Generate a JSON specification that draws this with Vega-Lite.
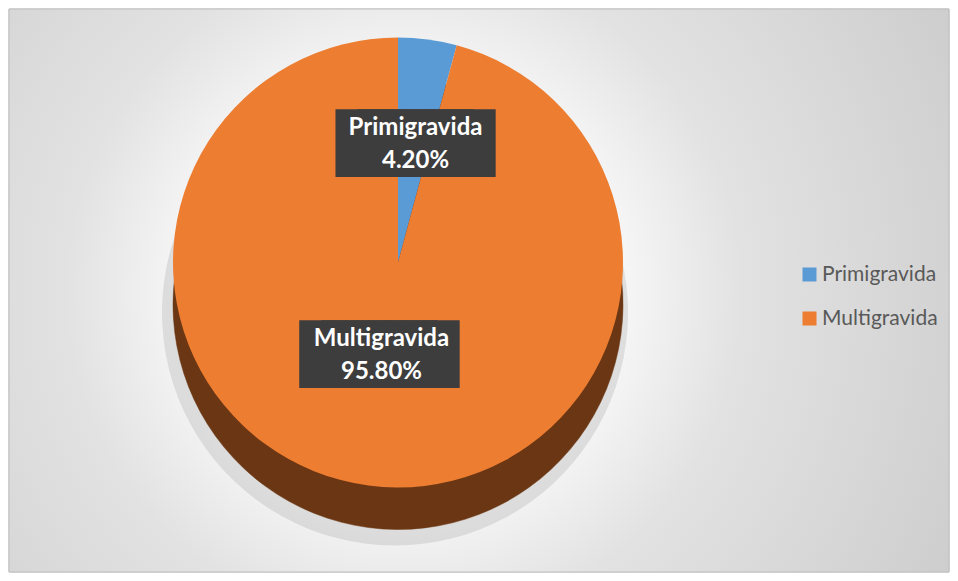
{
  "$schema": "https://vega.github.io/schema/vega-lite/v6.json",
  "width": 958,
  "height": 581,
  "autosize": {"type": "fit", "contains": "padding"},
  "padding": 8,
  "background": "#ffffff",
  "config": {"view": {"stroke": null}},
  "data": {"values": [
    {"category": "Primigravida", "value": 0.042},
    {"category": "Multigravida", "value": 0.958}
  ]},
  "layer": [
    {
      "mark": {"type": "rect", "stroke": "#bfbfbf", "strokeWidth": 1,
        "fill": {"gradient": "radial", "x1": 0.42, "y1": 0.5, "r1": 0, "x2": 0.42, "y2": 0.5, "r2": 0.72,
          "stops": [{"offset": 0, "color": "#ffffff"}, {"offset": 0.28, "color": "#fbfbfb"}, {"offset": 0.5, "color": "#e2e2e2"}, {"offset": 1, "color": "#c9c9c9"}]}},
      "encoding": {}
    },
    {
      "encoding": {
        "theta": {"field": "value", "type": "quantitative", "stack": true},
        "order": {"field": "category", "type": "ordinal", "sort": "descending"}
      },
      "layer": [
        {"mark": {"type": "arc", "radius": 233, "xOffset": -84, "yOffset": 22, "fill": "#8c8c8c", "opacity": 0.22}},
        {"mark": {"type": "arc", "radius": 225, "xOffset": -81, "yOffset": 14, "fill": "#6b3613", "stroke": "#6b3613", "strokeWidth": 0.5}},
        {
          "mark": {"type": "arc", "radius": 225, "xOffset": -81, "yOffset": -28},
          "encoding": {
            "color": {"field": "category", "type": "nominal",
              "scale": {"domain": ["Primigravida", "Multigravida"], "range": ["#5B9BD5", "#ED7D31"]},
              "legend": {"title": null, "orient": "none", "legendX": 790, "legendY": 255,
                "symbolType": "square", "symbolSize": 196, "symbolStrokeWidth": 0,
                "labelFont": "Lato", "labelFontSize": 21, "labelColor": "#595959",
                "rowPadding": 22, "labelOffset": 2}}
          }
        },
        {
          "mark": {"type": "text", "radius": 118, "xOffset": -90, "yOffset": -28, "font": "DejaVu Sans Mono", "fontSize": 57, "fill": "#3d3d3d", "align": "center", "baseline": "middle"},
          "encoding": {"text": {"condition": {"test": "datum.category === 'Primigravida'", "value": "████"}, "value": ""}}
        },
        {
          "mark": {"type": "text", "radius": 118, "xOffset": -68, "yOffset": -28, "font": "DejaVu Sans Mono", "fontSize": 57, "fill": "#3d3d3d", "align": "center", "baseline": "middle"},
          "encoding": {"text": {"condition": {"test": "datum.category === 'Primigravida'", "value": "████"}, "value": ""}}
        },
        {
          "mark": {"type": "text", "radius": 95, "xOffset": -98, "yOffset": -28, "font": "DejaVu Sans Mono", "fontSize": 57, "fill": "#3d3d3d", "align": "center", "baseline": "middle"},
          "encoding": {"text": {"condition": {"test": "datum.category === 'Multigravida'", "value": "████"}, "value": ""}}
        },
        {
          "mark": {"type": "text", "radius": 95, "xOffset": -76, "yOffset": -28, "font": "DejaVu Sans Mono", "fontSize": 57, "fill": "#3d3d3d", "align": "center", "baseline": "middle"},
          "encoding": {"text": {"condition": {"test": "datum.category === 'Multigravida'", "value": "████"}, "value": ""}}
        },
        {
          "mark": {"type": "text", "radius": 118, "xOffset": -79, "yOffset": -46, "font": "Lato", "fontWeight": "bold", "fontSize": 24, "fill": "#ffffff", "align": "center", "baseline": "middle"},
          "encoding": {"text": {"condition": {"test": "datum.category === 'Primigravida'", "field": "category"}, "value": ""}}
        },
        {
          "mark": {"type": "text", "radius": 118, "xOffset": -79, "yOffset": -13, "font": "Lato", "fontWeight": "bold", "fontSize": 24, "fill": "#ffffff", "align": "center", "baseline": "middle"},
          "encoding": {"text": {"condition": {"test": "datum.category === 'Primigravida'", "field": "value", "format": ".2%"}, "value": ""}}
        },
        {
          "mark": {"type": "text", "radius": 95, "xOffset": -85, "yOffset": -46, "font": "Lato", "fontWeight": "bold", "fontSize": 24, "fill": "#ffffff", "align": "center", "baseline": "middle"},
          "encoding": {"text": {"condition": {"test": "datum.category === 'Multigravida'", "field": "category"}, "value": ""}}
        },
        {
          "mark": {"type": "text", "radius": 95, "xOffset": -85, "yOffset": -13, "font": "Lato", "fontWeight": "bold", "fontSize": 24, "fill": "#ffffff", "align": "center", "baseline": "middle"},
          "encoding": {"text": {"condition": {"test": "datum.category === 'Multigravida'", "field": "value", "format": ".2%"}, "value": ""}}
        }
      ]
    }
  ]
}
